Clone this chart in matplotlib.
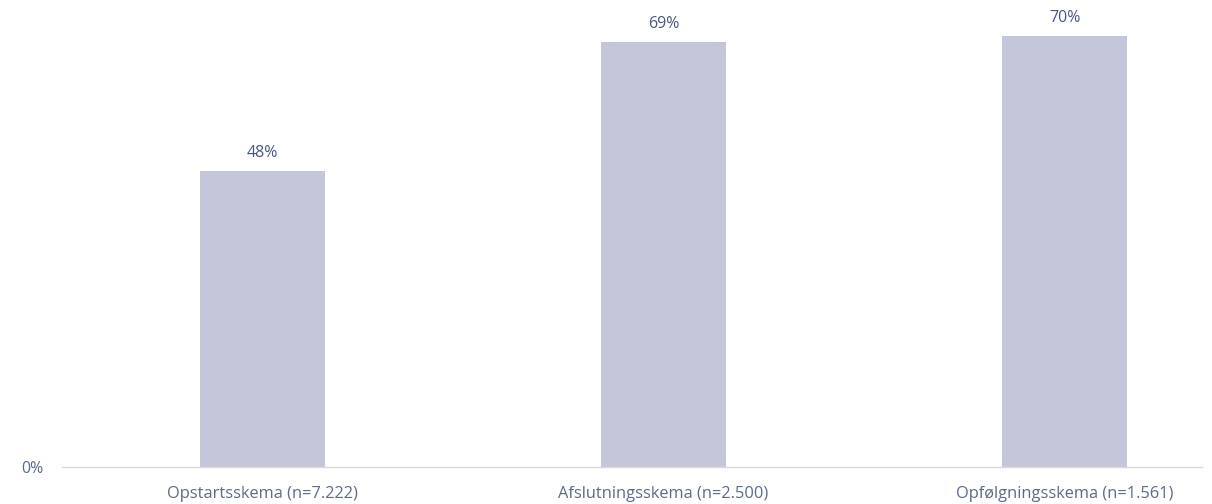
import matplotlib
matplotlib.use("Agg")
import matplotlib.pyplot as plt

categories = ["Opstartsskema (n=7.222)", "Afslutningsskema (n=2.500)", "Opfølgningsskema (n=1.561)"]
values = [48, 69, 70]
value_labels = ["48%", "69%", "70%"]

plt.rcParams['font.family'] = ['Open Sans', 'DejaVu Sans']

fig = plt.figure(figsize=(12.12, 5.04), dpi=100)
ax = fig.add_axes([62/1212, 37/504, (1202-62)/1212, 467/504])

x = list(range(len(categories)))
ax.bar(x, values, width=0.314, color="#c4c7d9", zorder=2)
ax.set_xlim(-0.5, 2.343)
ax.set_ylim(0, 75.8)

for xi, v, lab in zip(x, values, value_labels):
    ax.annotate(lab, (xi, v), xytext=(0, 13), textcoords="offset points",
                ha="center", va="center", fontsize=11.5, color="#4a5785")

for s in ["top", "right", "left"]:
    ax.spines[s].set_visible(False)
ax.spines["bottom"].set_color("#d9d9d9")
ax.spines["bottom"].set_linewidth(1)

ax.set_xticks(x)
ax.set_xticklabels(categories, fontsize=11.8, color="#5b6b8a")
ax.tick_params(axis="x", length=0, pad=13.5)
ax.set_yticks([0])
ax.set_yticklabels(["0%"], fontsize=11.5, color="#5b6b8a")
ax.tick_params(axis="y", length=0, pad=13)

fig.savefig("out.png", dpi=100)
